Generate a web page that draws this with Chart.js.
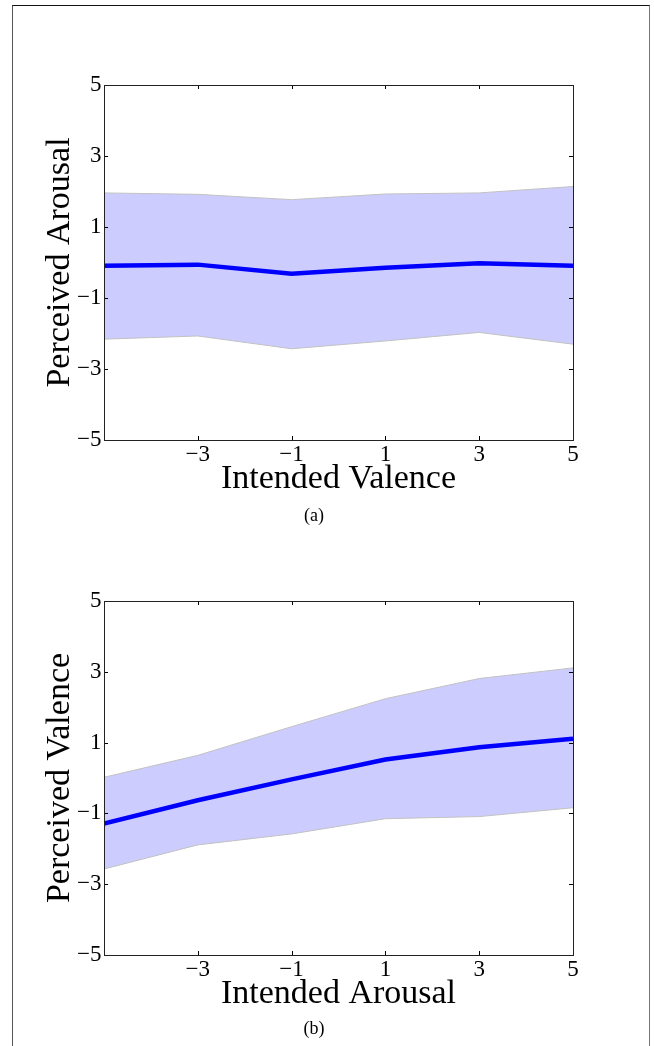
<!DOCTYPE html>
<html><head><meta charset="utf-8">
<script src="https://cdn.jsdelivr.net/npm/chart.js@4.4.1/dist/chart.umd.min.js"></script>
<style>
html,body{margin:0;padding:0;background:#fff;width:654px;height:1046px;overflow:hidden;position:relative;}
#frame{position:absolute;left:12px;top:5px;width:638px;height:1100px;border-top:1.5px solid #111;border-left:1.5px solid #555;border-right:1.5px solid #777;box-sizing:border-box;}
.wrap{position:absolute;left:0;width:654px;}
canvas{display:block;}
.cap{position:absolute;font-family:"Liberation Serif",serif;font-size:18px;line-height:20px;color:#000;width:60px;text-align:center;}
</style></head><body>
<div id="frame"></div>
<div class="wrap" style="top:60px;height:470px"><canvas id="ca" width="654" height="470"></canvas></div>
<div class="wrap" style="top:576px;height:469px"><canvas id="cb" width="654" height="469"></canvas></div>
<div class="cap" style="left:284px;top:505px">(a)</div>
<div class="cap" style="left:284px;top:1018px">(b)</div>
<script>
// ---- data ----
const xValues = [-5, -3, -1, 1, 3, 5];
const xTickValues = [-3, -1, 1, 3, 5];
const yTickValues = [-5, -3, -1, 1, 3, 5];

// (a) Perceived Arousal vs Intended Valence
const arousalMean  = [-0.09, -0.06, -0.32, -0.15, -0.02, -0.09];
const arousalUpper = [1.96, 1.92, 1.77, 1.93, 1.96, 2.14];
const arousalLower = [-2.16, -2.07, -2.43, -2.21, -1.97, -2.30];

// (b) Perceived Valence vs Intended Arousal
const valenceMean  = [-1.29, -0.63, -0.04, 0.52, 0.87, 1.11];
const valenceUpper = [0.02, 0.64, 1.45, 2.24, 2.81, 3.11];
const valenceLower = [-2.57, -1.89, -1.58, -1.15, -1.09, -0.84];

const FONT = 'Liberation Serif';
const fmt = v => (v < 0 ? '\u2212' + Math.abs(v) : String(v));

const boxTicks = {
  id: 'boxTicks',
  afterDatasetsDraw(chart) {
    const {ctx, chartArea, scales} = chart;
    const {left, right, top, bottom} = chartArea;
    const x = scales.x, y = scales.y;
    ctx.save();
    ctx.strokeStyle = '#000';
    ctx.lineWidth = 1;
    ctx.beginPath();
    xTickValues.forEach(v => {
      const px = Math.round(x.getPixelForValue(v)) + 0.5;
      ctx.moveTo(px, bottom); ctx.lineTo(px, bottom - 4);
      ctx.moveTo(px, top); ctx.lineTo(px, top + 4);
    });
    yTickValues.forEach(v => {
      const py = Math.round(y.getPixelForValue(v)) + 0.5;
      ctx.moveTo(left, py); ctx.lineTo(left + 4, py);
      ctx.moveTo(right, py); ctx.lineTo(right - 4, py);
    });
    ctx.stroke();
    ctx.strokeStyle = '#222';
    ctx.strokeRect(Math.round(left) + 0.5, Math.round(top) + 0.5, Math.round(right - left), Math.round(bottom - top));
    ctx.restore();
  }
};

function makeChart(id, xTitle, yTitle, mean, upper, lower) {
  const pts = arr => xValues.map((xv, i) => ({x: xv, y: arr[i]}));
  return new Chart(document.getElementById(id), {
    type: 'line',
    data: {
      datasets: [
        {data: pts(lower), borderColor: '#c2c2c2', borderWidth: 1, pointRadius: 0, fill: false, order: 2, tension: 0},
        {data: pts(upper), borderColor: '#c2c2c2', borderWidth: 1, pointRadius: 0, fill: '-1', backgroundColor: '#ccccff', order: 1, tension: 0},
        {data: pts(mean), borderColor: '#0000ff', borderWidth: 4.5, pointRadius: 0, fill: false, order: 0, tension: 0}
      ]
    },
    options: {
      responsive: false,
      animation: false,
      devicePixelRatio: 1,
      layout: {padding: {left: 0, right: 81, top: 25, bottom: 30}},
      plugins: {
        legend: {display: false},
        tooltip: {enabled: false},
        filler: {drawTime: 'beforeDatasetsDraw'}
      },
      scales: {
        x: {
          type: 'linear', min: -5, max: 5,
          grid: {display: false, drawTicks: false},
          border: {display: false},
          afterBuildTicks: s => { s.ticks = xTickValues.map(v => ({value: v})); },
          afterFit: s => { s.height = 60; },
          ticks: {padding: 1.5, color: '#000', maxRotation: 0, autoSkip: false,
                  font: {family: FONT, size: 23, lineHeight: 1.2}, callback: fmt},
          title: {display: true, text: xTitle, color: '#000',
                  font: {family: FONT, size: 34, lineHeight: 1}, padding: {top: 0, bottom: 4}}
        },
        y: {
          type: 'linear', min: -5, max: 5,
          grid: {display: false, drawTicks: false},
          border: {display: false},
          afterBuildTicks: s => { s.ticks = yTickValues.map(v => ({value: v})); },
          afterFit: s => { s.width = 104; },
          ticks: {padding: 2.5, color: '#000', autoSkip: false,
                  font: {family: FONT, size: 23, lineHeight: 1.2}, callback: fmt},
          title: {display: true, text: yTitle, color: '#000',
                  font: {family: FONT, size: 34, lineHeight: 1}, padding: {top: 43, bottom: 0}}
        }
      }
    },
    plugins: [boxTicks]
  });
}

makeChart('ca', 'Intended Valence', 'Perceived Arousal', arousalMean, arousalUpper, arousalLower);
makeChart('cb', 'Intended Arousal', 'Perceived Valence', valenceMean, valenceUpper, valenceLower);
</script>
</body></html>
